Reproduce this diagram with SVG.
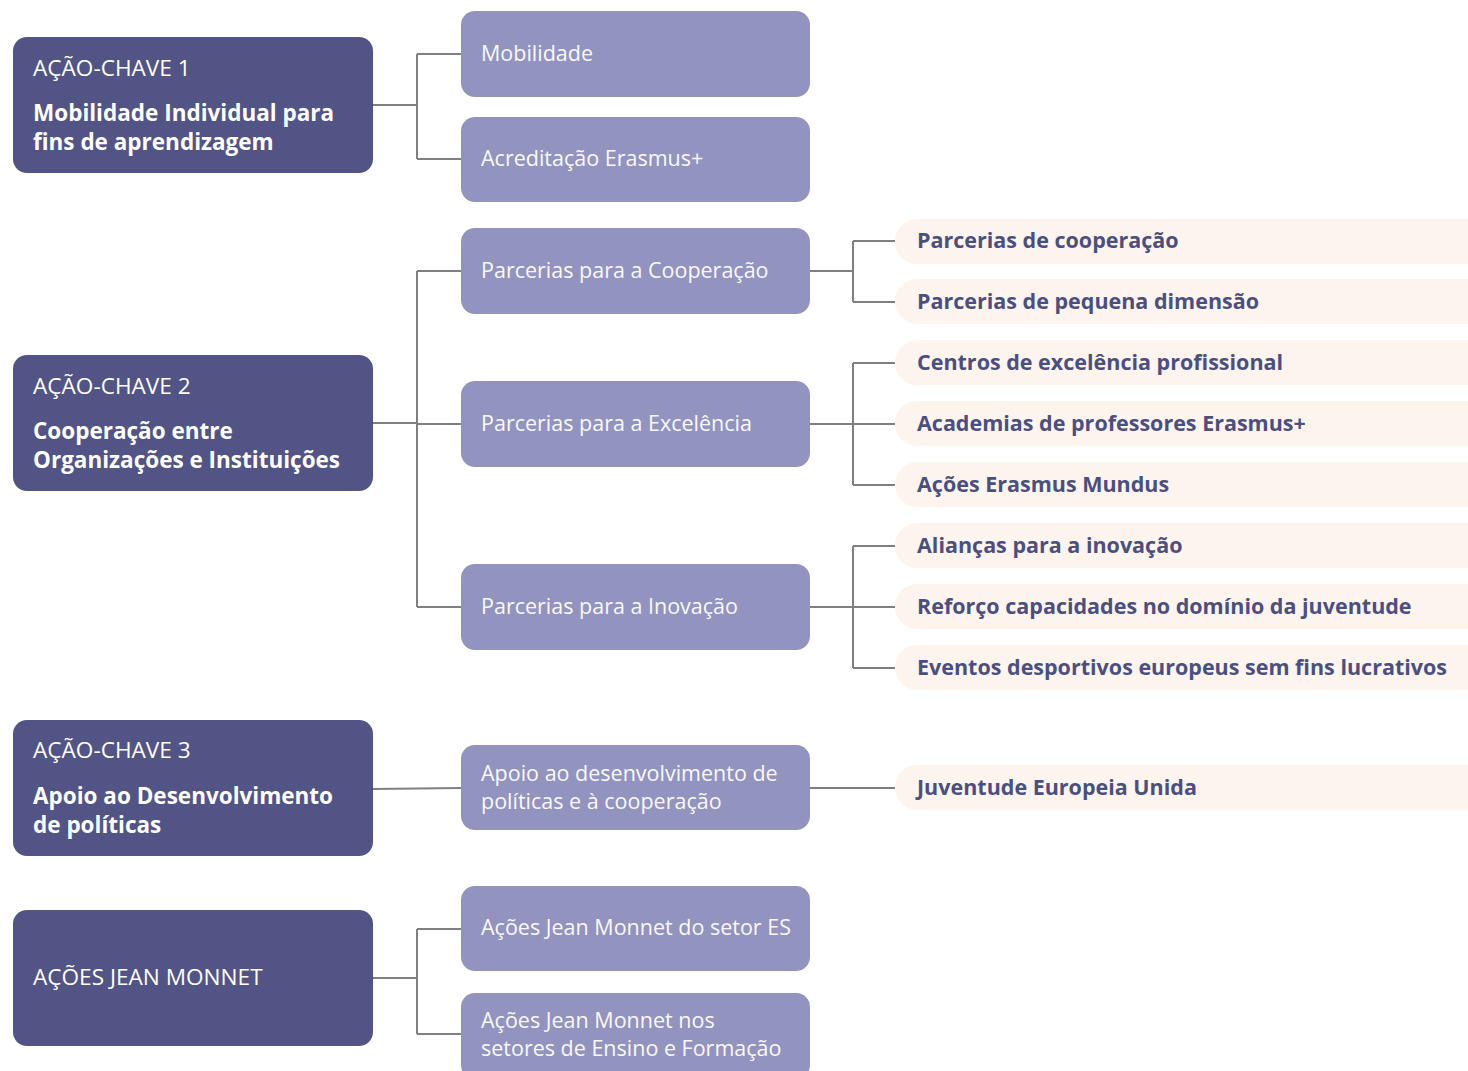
<svg xmlns="http://www.w3.org/2000/svg" width="1468" height="1071" viewBox="0 0 1468 1071">
<style>
.dk{fill:#525486}
.lt{fill:#9293be}
.pl{fill:#fef4ee}
.t1{font-family:"Open Sans","Liberation Sans",sans-serif;font-size:22.6px;fill:#ffffff}
.t1b{font-family:"Open Sans","Liberation Sans",sans-serif;font-size:22.5px;font-weight:700;fill:#ffffff}
.t2{font-family:"Open Sans","Liberation Sans",sans-serif;font-size:21.5px;fill:#f8f8fb}
.t3{font-family:"Open Sans","Liberation Sans",sans-serif;font-size:21.5px;font-weight:700;fill:#4b4f80}
.cn{fill:none;stroke:#7f7f7f;stroke-width:2}
</style>
<rect width="1468" height="1071" fill="#ffffff"/>
<g id="connectors">
<path class="cn" d="M373,105H417M417,54V159M417,54H461M417,159H461"/>
<path class="cn" d="M373,423H417M417,271V607M417,271H461M417,424H461M417,607H461"/>
<path class="cn" d="M373,789L461,788"/>
<path class="cn" d="M373,978H417M417,929V1034M417,929H461M417,1034H461"/>
<path class="cn" d="M810,271H853M853,241V302M853,241H895M853,302H895"/>
<path class="cn" d="M810,424H895M853,363V485M853,363H895M853,485H895"/>
<path class="cn" d="M810,607H895M853,546V668M853,546H895M853,668H895"/>
<path class="cn" d="M810,788H895"/>
</g>
<g id="ka1"><rect class="dk" x="13" y="37" width="360" height="136" rx="14"/><text class="t1" x="33" y="76">AÇÃO-CHAVE 1</text><text class="t1b" x="33" y="121">Mobilidade Individual para</text><text class="t1b" x="33" y="150">fins de aprendizagem</text></g>
<g id="ka2"><rect class="dk" x="13" y="355" width="360" height="136" rx="14"/><text class="t1" x="33" y="394">AÇÃO-CHAVE 2</text><text class="t1b" x="33" y="439">Cooperação entre</text><text class="t1b" x="33" y="468">Organizações e Instituições</text></g>
<g id="ka3"><rect class="dk" x="13" y="720" width="360" height="136" rx="14"/><text class="t1" x="33" y="758">AÇÃO-CHAVE 3</text><text class="t1b" x="33" y="804">Apoio ao Desenvolvimento</text><text class="t1b" x="33" y="833">de políticas</text></g>
<g id="jm"><rect class="dk" x="13" y="910" width="360" height="136" rx="14"/><text class="t1" x="33" y="985">AÇÕES JEAN MONNET</text></g>
<g id="mob"><rect class="lt" x="461" y="11" width="349" height="86" rx="14"/><text class="t2" x="481" y="61">Mobilidade</text></g>
<g id="acr"><rect class="lt" x="461" y="117" width="349" height="85" rx="14"/><text class="t2" x="481" y="166">Acreditação Erasmus+</text></g>
<g id="pcoop"><rect class="lt" x="461" y="228" width="349" height="86" rx="14"/><text class="t2" x="481" y="278">Parcerias para a Cooperação</text></g>
<g id="pexc"><rect class="lt" x="461" y="381" width="349" height="86" rx="14"/><text class="t2" x="481" y="431">Parcerias para a Excelência</text></g>
<g id="pinov"><rect class="lt" x="461" y="564" width="349" height="86" rx="14"/><text class="t2" x="481" y="614">Parcerias para a Inovação</text></g>
<g id="apoio"><rect class="lt" x="461" y="745" width="349" height="85" rx="14"/><text class="t2" x="481" y="781">Apoio ao desenvolvimento de</text><text class="t2" x="481" y="809">políticas e à cooperação</text></g>
<g id="jm1"><rect class="lt" x="461" y="886" width="349" height="85" rx="14"/><text class="t2" x="481" y="935">Ações Jean Monnet do setor ES</text></g>
<g id="jm2"><rect class="lt" x="461" y="993" width="349" height="86" rx="14"/><text class="t2" x="481" y="1028">Ações Jean Monnet nos</text><text class="t2" x="481" y="1056">setores de Ensino e Formação</text></g>
<g id="s1"><rect class="pl" x="895" y="219" width="600" height="45" rx="22"/><text class="t3" x="917" y="248">Parcerias de cooperação</text></g>
<g id="s2"><rect class="pl" x="895" y="279" width="600" height="45" rx="22"/><text class="t3" x="917" y="309">Parcerias de pequena dimensão</text></g>
<g id="s3"><rect class="pl" x="895" y="340" width="600" height="45" rx="22"/><text class="t3" x="917" y="370">Centros de excelência profissional</text></g>
<g id="s4"><rect class="pl" x="895" y="401" width="600" height="45" rx="22"/><text class="t3" x="917" y="431">Academias de professores Erasmus+</text></g>
<g id="s5"><rect class="pl" x="895" y="462" width="600" height="45" rx="22"/><text class="t3" x="917" y="492">Ações Erasmus Mundus</text></g>
<g id="s6"><rect class="pl" x="895" y="523" width="600" height="45" rx="22"/><text class="t3" x="917" y="553">Alianças para a inovação</text></g>
<g id="s7"><rect class="pl" x="895" y="584" width="600" height="45" rx="22"/><text class="t3" x="917" y="614">Reforço capacidades no domínio da juventude</text></g>
<g id="s8"><rect class="pl" x="895" y="645" width="600" height="45" rx="22"/><text class="t3" x="917" y="675">Eventos desportivos europeus sem fins lucrativos</text></g>
<g id="s9"><rect class="pl" x="895" y="765" width="600" height="45" rx="22"/><text class="t3" x="917" y="795">Juventude Europeia Unida</text></g>
</svg>
